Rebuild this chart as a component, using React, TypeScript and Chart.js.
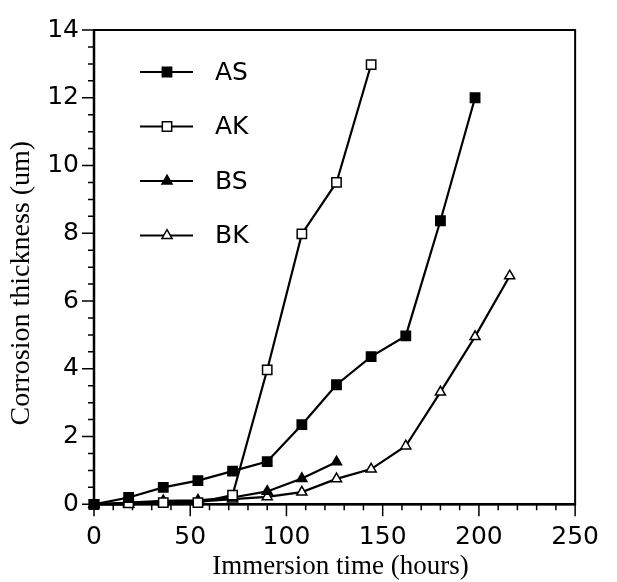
import React, { useEffect, useRef } from 'react';
import { Chart, registerables } from 'chart.js';
import { drawPoint } from 'chart.js/helpers';

Chart.register(...registerables);

// immersion time (hours), one reading every 18 h
const HOURS = [0, 18, 36, 54, 72, 90, 108, 126, 144, 162, 180, 198, 216];

// corrosion thickness (um)
const AS = [0, 0.2, 0.5, 0.7, 0.98, 1.26, 2.35, 3.53, 4.36, 4.97, 8.37, 12.0];
const AK = [0, 0.04, 0.05, 0.05, 0.27, 3.97, 7.98, 9.5, 12.98];
const BS = [0, 0.05, 0.1, 0.12, 0.2, 0.38, 0.76, 1.25];
const BK = [0, 0, 0.05, 0.08, 0.15, 0.22, 0.36, 0.75, 1.04, 1.72, 3.31, 4.95, 6.74];

const SERIES_LABELS = ['AS', 'AK', 'BS', 'BK'];
const X_TICKS = [0, 50, 100, 150, 200, 250];
const Y_TICKS = [0, 2, 4, 6, 8, 10, 12, 14];

const X_TITLE = 'Immersion time (hours)';
const Y_TITLE = 'Corrosion thickness (um)';

const SANS = '"DejaVu Sans", "Liberation Sans", sans-serif';
const SERIF = '"Liberation Serif", "DejaVu Serif", serif';

const seriesStyle = (label) => {
  const filled = label.endsWith('S');
  const tri = label.startsWith('B');
  return {
    pointStyle: tri ? 'triangle' : 'rect',
    pointRadius: tri ? 5.8 : 6.6,
    pointBackgroundColor: filled ? '#000' : '#fff',
  };
};

const frameAndTicks = {
  id: 'frameAndTicks',
  beforeDatasetsDraw(chart) {
    const { ctx, chartArea: a, scales } = chart;
    const xs = scales.x, ys = scales.y;
    ctx.save();
    ctx.strokeStyle = '#000';
    ctx.lineWidth = 1.5;
    ctx.beginPath();
    for (let v = 0; v <= 250; v += 10) {
      const px = xs.getPixelForValue(v);
      const len = v % 50 === 0 ? 12 : 6;
      ctx.moveTo(px, a.bottom);
      ctx.lineTo(px, a.bottom + len);
    }
    for (let v = 0; v <= 14; v += 0.5) {
      const py = ys.getPixelForValue(v);
      const len = v % 2 === 0 ? 12 : 6;
      ctx.moveTo(a.left, py);
      ctx.lineTo(a.left - len, py);
    }
    ctx.stroke();
    ctx.lineWidth = 2;
    ctx.strokeRect(a.left, a.top, a.right - a.left, a.bottom - a.top);
    ctx.lineWidth = 2.5;
    ctx.beginPath();
    ctx.moveTo(a.left, a.top);
    ctx.lineTo(a.left, a.bottom);
    ctx.lineTo(a.right, a.bottom);
    ctx.stroke();
    ctx.restore();
  },
  afterDraw(chart) {
    const { ctx, chartArea: a } = chart;
    ctx.save();
    ctx.fillStyle = '#000';
    ctx.textAlign = 'center';
    ctx.textBaseline = 'middle';
    ctx.font = '27px ' + SERIF;
    ctx.fillText(X_TITLE, (a.left + a.right) / 2 + 6, 567);
    ctx.font = '28px ' + SERIF;
    ctx.translate(22, (a.top + a.bottom) / 2 + 16);
    ctx.rotate(-Math.PI / 2);
    ctx.fillText(Y_TITLE, 0, 0);
    ctx.restore();

    // legend, top-left inside the frame
    ctx.save();
    ctx.font = '25px ' + SANS;
    ctx.textBaseline = 'middle';
    ctx.textAlign = 'left';
    chart.data.datasets.forEach((ds, i) => {
      const y = 72 + i * 54.5;
      ctx.strokeStyle = '#000';
      ctx.lineWidth = 2;
      ctx.beginPath();
      ctx.moveTo(140, y);
      ctx.lineTo(193, y);
      ctx.stroke();
      ctx.fillStyle = ds.pointBackgroundColor;
      ctx.lineWidth = 1.5;
      drawPoint(ctx, { pointStyle: ds.pointStyle, radius: ds.pointRadius, rotation: 0, borderWidth: 1.5 }, 167, y);
      ctx.fillStyle = '#000';
      ctx.fillText(ds.label, 215, y + 1);
    });
    ctx.restore();
  },
};

export default function App() {
  const canvasRef = useRef(null);

  useEffect(() => {
    const values = [AS, AK, BS, BK];
    const datasets = SERIES_LABELS.map((label, i) => ({
      label,
      data: values[i].map((v, j) => ({ x: HOURS[j], y: v })),
      borderColor: '#000',
      borderWidth: 2.2,
      pointBorderColor: '#000',
      pointBorderWidth: 1.5,
      tension: 0,
      clip: false,
      ...seriesStyle(label),
    }));

    const chart = new Chart(canvasRef.current, {
      type: 'line',
      data: { datasets },
      plugins: [frameAndTicks],
      options: {
        animation: false,
        responsive: true,
        maintainAspectRatio: false,
        layout: { padding: { top: 22.7, right: 37.7, left: 0, bottom: 0 } },
        plugins: { legend: { display: false }, tooltip: { enabled: false } },
        scales: {
          x: {
            type: 'linear',
            min: 0,
            max: 250,
            grid: { display: false, drawTicks: false },
            border: { display: false },
            afterFit: (s) => { s.height = 77.7; },
            afterBuildTicks: (s) => { s.ticks = X_TICKS.map((v) => ({ value: v })); },
            ticks: { color: '#000', padding: 18, font: { family: SANS, size: 25 }, maxRotation: 0 },
          },
          y: {
            min: 0,
            max: 14,
            grid: { display: false, drawTicks: false },
            border: { display: false },
            afterFit: (s) => { s.width = 94; },
            afterBuildTicks: (s) => { s.ticks = Y_TICKS.map((v) => ({ value: v })); },
            ticks: { color: '#000', padding: 15, font: { family: SANS, size: 25 } },
          },
        },
      },
    });
    return () => chart.destroy();
  }, []);

  return (
    <div style={{ position: 'absolute', left: 0, top: 0, width: 617, height: 582, background: '#fff' }}>
      <canvas ref={canvasRef} />
    </div>
  );
}
